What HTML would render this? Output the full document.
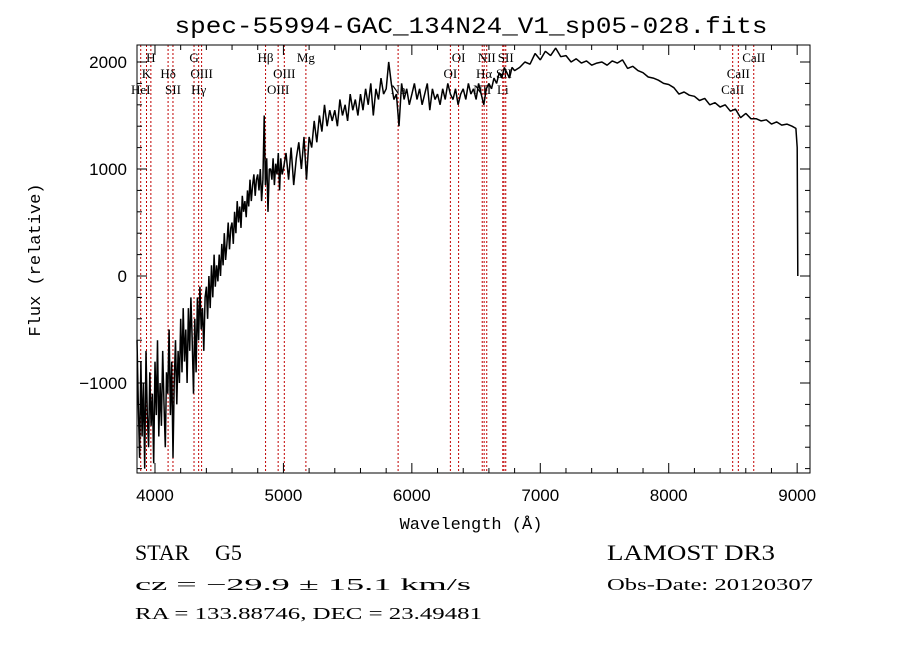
<!DOCTYPE html>
<html><head><meta charset="utf-8"><style>
html,body{margin:0;padding:0;background:#fff;}
svg{display:block;}
</style></head><body>
<svg width="900" height="649" viewBox="0 0 900 649" xmlns="http://www.w3.org/2000/svg">
<rect x="0" y="0" width="900" height="649" fill="#fff"/>
<text x="471" y="33" font-family="Liberation Mono, monospace" font-size="23" text-anchor="middle" textLength="593" lengthAdjust="spacingAndGlyphs">spec-55994-GAC_134N24_V1_sp05-028.fits</text>
<g id="lines"></g>
<g id="spec"></g>
<g id="axes"></g>
<text x="471" y="529" font-family="Liberation Mono, monospace" font-size="17" text-anchor="middle">Wavelength (Å)</text>
<text transform="translate(40,260) rotate(-90)" font-family="Liberation Mono, monospace" font-size="17" text-anchor="middle">Flux (relative)</text>
<text x="135" y="560" font-family="Liberation Serif, serif" font-size="22">STAR</text>
<text x="215" y="560" font-family="Liberation Serif, serif" font-size="22">G5</text>
<text x="135" y="590" font-family="Liberation Serif, serif" font-size="17" textLength="336" lengthAdjust="spacingAndGlyphs">cz = −29.9 ± 15.1 km/s</text>
<text x="135" y="619" font-family="Liberation Serif, serif" font-size="17" textLength="347" lengthAdjust="spacingAndGlyphs">RA = 133.88746, DEC =  23.49481</text>
<text x="607" y="560" font-family="Liberation Serif, serif" font-size="22" textLength="168" lengthAdjust="spacingAndGlyphs">LAMOST DR3</text>
<text x="607" y="590" font-family="Liberation Serif, serif" font-size="17" textLength="206" lengthAdjust="spacingAndGlyphs">Obs-Date: 20120307</text>
</svg>
<script>
const wavelengths=[3860,3870,3880,3890,3900,3910,3920,3930,3940,3950,3960,3970,3980,3990,
4000,4010,4020,4030,4040,4050,4060,4070,4080,4090,
4100,4110,4120,4130,4140,4150,4160,4170,4180,4190,
4200,4210,4220,4230,4240,4250,4260,4270,4280,4290,
4300,4310,4320,4330,4340,4350,4360,4370,4380,4390,
4400,4410,4420,4430,4440,4450,4460,4470,4480,4490,
4500,4510,4520,4530,4540,4550,4560,4570,4580,4590,
4600,4610,4620,4630,4640,4650,4660,4670,4680,4690,
4700,4710,4720,4730,4740,4750,4760,4770,4780,4790,
4800,4810,4820,4830,4840,4850,4860,4870,4880,4890,
4900,4910,4920,4930,4940,4950,4960,4970,4980,4990,
5000,5020,5040,5060,5080,5100,5120,5140,5160,5180,
5200,5220,5240,5260,5280,5300,5320,5340,5360,5380,
5400,5420,5440,5460,5480,5500,5520,5540,5560,5580,
5600,5620,5640,5660,5680,5700,5720,5740,5760,5780,
5800,5820,5840,5860,5880,5900,5920,5940,5960,5980,
6000,6020,6040,6060,6080,6100,6120,6140,6160,6180,
6200,6220,6240,6260,6280,6300,6320,6340,6360,6380,
6400,6420,6440,6460,6480,6500,6520,6540,6560,6580,
6600,6620,6640,6660,6680,6700,6720,6740,6760,6780,
6800,6840,6880,6920,6960,7000,7040,7080,7120,7160,7200,7240,7280,7320,7360,7400,7440,7480,7520,7560,7600,7640,7680,7720,7760,7800,7840,7880,7920,7960,8000,8040,8080,8120,8160,8200,8240,8280,8320,8360,8400,8440,8480,8520,8560,8600,8640,8680,8720,8760,8800,8840,8880,8920,8960,8990,9000,9005];
const flux=[-600,-1200,-1700,-800,-1500,-1000,-1800,-700,-1300,-1600,-900,-1400,-1100,-1750,
-800,-1300,-600,-1500,-1000,-1400,-700,-1200,-1600,-900,
-1100,-500,-1300,-800,-1700,-1000,-600,-1200,-700,-1000,
-400,-900,-300,-800,-500,-1000,-300,-700,-200,-600,
-1100,-400,-900,-200,-600,-100,-500,-300,-700,-200,
-100,-400,0,-300,100,-200,200,-100,100,-50,
200,0,300,100,400,150,300,500,250,450,
500,300,600,400,700,500,650,450,750,600,
700,550,800,650,900,700,850,950,750,900,
950,800,1000,700,900,1500,850,1100,600,1000,
1000,900,1100,850,1050,950,1150,800,1100,950,
1000,1150,900,1200,850,1100,1250,1000,1300,900,
1300,1200,1450,1250,1500,1350,1600,1400,1550,1450,
1550,1400,1650,1500,1600,1450,1700,1550,1650,1500,
1700,1550,1750,1600,1800,1500,1750,1650,1850,1700,
1750,2000,1800,1650,1700,1400,1800,1650,1750,1600,
1700,1800,1650,1750,1600,1700,1800,1550,1750,1650,
1700,1600,1750,1650,1800,1700,1650,1750,1600,1700,
1750,1650,1800,1700,1750,1650,1800,1700,1600,1750,
1800,1750,1850,1800,1900,1850,1950,1900,1850,1950,
1920,1950,2000,1980,2080,2020,2100,2060,2130,2050,2060,2000,2030,1990,2010,1970,1990,2000,1970,2010,1990,2020,1940,1960,1920,1900,1860,1850,1830,1800,1790,1760,1700,1720,1690,1680,1640,1660,1600,1620,1580,1600,1540,1560,1480,1520,1470,1470,1450,1460,1420,1440,1410,1420,1400,1380,1200,0];
const lineWaves=[3889,3934,3968,4102,4140,4304,4340,4363,4861,4959,5007,5175,5893,6300,6364,6548,6563,6583,6708,6717,6731,8498,8542,8662];
const lineLabels=["HeI","K","H","Hδ","SII","G","Hγ","OIII","Hβ","OIII","OIII","Mg","Na","OI","OI","NII","Hα","NII","Li","SII","SII","CaII","CaII","CaII"];
const lineRows=[3,2,1,2,3,1,3,2,1,3,2,1,3,2,1,3,2,1,3,2,1,3,2,1];
const xTicks=[4000,5000,6000,7000,8000,9000];
const yTicks=[-1000,0,1000,2000];
const X0=137,X1=810,Y0=45,Y1=473,WMIN=3860,WMAX=9100,FMIN=-1841,FMAX=2159;
const xs=w=>X0+(w-WMIN)/(WMAX-WMIN)*(X1-X0);
const ys=f=>Y1-(f-FMIN)/(FMAX-FMIN)*(Y1-Y0);
const NS='http://www.w3.org/2000/svg';
function mk(t,a){const e=document.createElementNS(NS,t);for(const k in a)e.setAttribute(k,a[k]);return e;}
const gl=document.getElementById('lines');
lineWaves.forEach((w,i)=>{
 const x=xs(w);
 const l=mk('line',{x1:x,y1:Y0,x2:x,y2:Y1,stroke:'#c00000','stroke-width':1,'stroke-dasharray':'2,2'});
 
 
 gl.appendChild(l);
 const t=mk('text',{x:x,y:62+(lineRows[i]-1)*16,'font-family':'Liberation Serif, serif','font-size':13,'text-anchor':'middle'});
 t.textContent=lineLabels[i];
 
 
 gl.appendChild(t);
});
const gs=document.getElementById('spec');
const p=wavelengths.map((w,i)=>(i?'L':'M')+xs(w).toFixed(1)+','+Math.max(Y0,Math.min(Y1,ys(flux[i]))).toFixed(1)).join(' ');
const path=mk('path',{d:p,fill:'none',stroke:'#000','stroke-width':1.5,'stroke-linejoin':'bevel'});


gs.appendChild(path);
const ga=document.getElementById('axes');
const fr=mk('rect',{x:X0,y:Y0,width:X1-X0,height:Y1-Y0,fill:'none',stroke:'#000','stroke-width':1});


ga.appendChild(fr);
for(let w=4000;w<=9000;w+=200){const x=xs(w);const L=(w%1000===0)?10:5;
 ga.appendChild(mk('line',{x1:x,y1:Y1,x2:x,y2:Y1-L,stroke:'#000'}));
 ga.appendChild(mk('line',{x1:x,y1:Y0,x2:x,y2:Y0+L,stroke:'#000'}));}
for(let f=-1800;f<=2100;f+=200){const y=ys(f);const L=(f%1000===0)?10:5;
 ga.appendChild(mk('line',{x1:X0,y1:y,x2:X0+L,y2:y,stroke:'#000'}));
 ga.appendChild(mk('line',{x1:X1,y1:y,x2:X1-L,y2:y,stroke:'#000'}));}
xTicks.forEach(v=>{const t=mk('text',{x:xs(v),y:Y1+28,'font-family':'Liberation Sans, sans-serif','font-size':17,'text-anchor':'middle'});t.textContent=v;
 
 
 ga.appendChild(t);});
yTicks.forEach(v=>{const t=mk('text',{x:X0-10,y:ys(v)+6,'font-family':'Liberation Sans, sans-serif','font-size':17,'text-anchor':'end'});t.textContent=v<0?'−'+Math.abs(v):v;
 
 
 ga.appendChild(t);});
</script>
</body></html>
